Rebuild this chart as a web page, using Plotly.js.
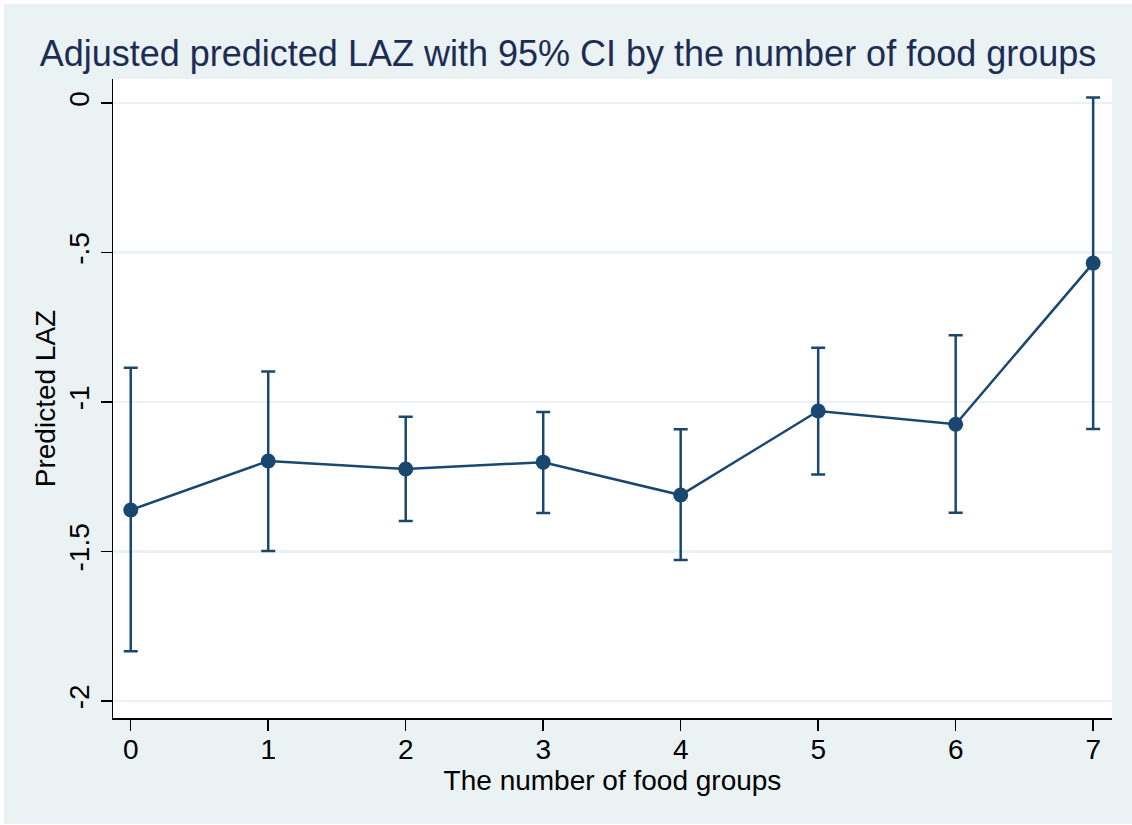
<!DOCTYPE html>
<html>
<head>
<meta charset="utf-8">
<script src="https://cdn.plot.ly/plotly-3.0.1.min.js"></script>
<style>
html,body{margin:0;padding:0;background:#ffffff;}
#chart{position:absolute;left:4px;top:4px;width:1128px;height:820px;}
</style>
</head>
<body>
<div id="chart"></div>
<script>
var foodGroups = [0, 1, 2, 3, 4, 5, 6, 7];
var predictedLAZ = [-1.361, -1.197, -1.224, -1.201, -1.311, -1.030, -1.074, -0.535];
var upperCI = [-0.885, -0.898, -1.049, -1.033, -1.091, -0.818, -0.776, 0.019];
var lowerCI = [-1.834, -1.498, -1.398, -1.371, -1.528, -1.242, -1.370, -1.090];
var xTickVals = [0, 1, 2, 3, 4, 5, 6, 7];
var yTickVals = [0, -0.5, -1, -1.5, -2];
var yTickText = ['0', '-.5', '-1', '-1.5', '-2'];

var navy = '#1a476f';
var bg = '#eaf2f3';
var font = 'Liberation Sans, Arial, Helvetica, sans-serif';

var trace = {
  x: foodGroups,
  y: predictedLAZ,
  type: 'scatter',
  mode: 'lines+markers',
  line: {color: navy, width: 2.5},
  marker: {color: navy, size: 15},
  error_y: {
    type: 'data',
    symmetric: false,
    array: upperCI.map(function(u, i){ return u - predictedLAZ[i]; }),
    arrayminus: lowerCI.map(function(l, i){ return predictedLAZ[i] - l; }),
    color: navy,
    thickness: 2.5,
    width: 7
  },
  hoverinfo: 'x+y'
};

var layout = {
  width: 1128,
  height: 820,
  paper_bgcolor: bg,
  plot_bgcolor: '#ffffff',
  margin: {l: 109, r: 20, t: 75, b: 106},
  showlegend: false,
  font: {family: font, color: '#000000', size: 28},
  title: {
    text: 'Adjusted predicted LAZ with 95% CI by the number of food groups',
    font: {family: font, size: 36, color: '#1c2d55'},
    x: 0.5,
    xanchor: 'center',
    xref: 'container',
    y: 0.94,
    yref: 'container',
    yanchor: 'middle'
  },
  xaxis: {
    range: [-0.129, 7.137],
    tickvals: xTickVals,
    ticktext: xTickVals.map(String),
    showgrid: false,
    zeroline: false,
    showline: true,
    linecolor: '#000000',
    linewidth: 1.5,
    ticks: 'outside',
    ticklen: 11,
    tickwidth: 1.5,
    tickcolor: '#000000',
    ticklabelstandoff: -5,
    tickfont: {size: 28, family: font, color: '#000000'},
    title: {text: 'The number of food groups', font: {size: 28, family: font, color: '#000000'}, standoff: 4}
  },
  yaxis: {
    range: [-2.057, 0.081],
    tickvals: yTickVals,
    ticktext: yTickText,
    tickangle: -90,
    showgrid: true,
    gridcolor: bg,
    gridwidth: 2.5,
    zeroline: false,
    showline: true,
    linecolor: '#000000',
    linewidth: 1.5,
    ticks: 'outside',
    ticklen: 11,
    tickwidth: 1.5,
    tickcolor: '#000000',
    tickfont: {size: 28, family: font, color: '#000000'},
    title: {text: 'Predicted LAZ', font: {size: 28, family: font, color: '#000000'}, standoff: 0}
  }
};

Plotly.newPlot('chart', [trace], layout, {displayModeBar: false, staticPlot: true});
</script>
</body>
</html>
